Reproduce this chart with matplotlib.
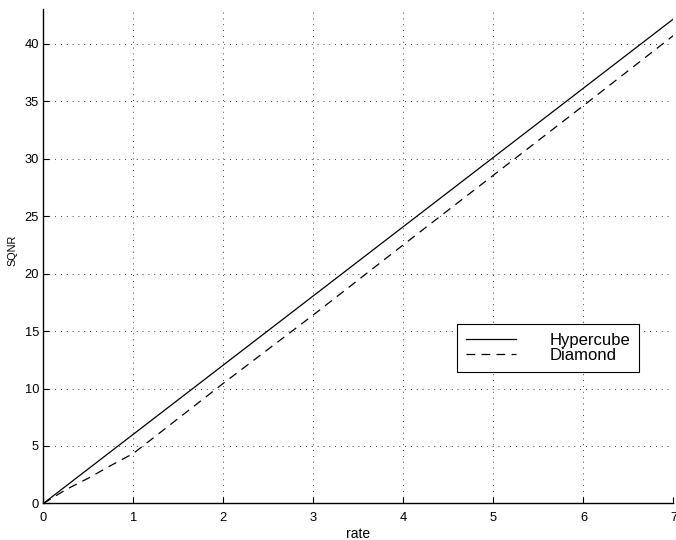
import matplotlib.pyplot as plt

plt.rcParams['font.family'] = ['Liberation Sans', 'DejaVu Sans']

# --- DATA ---
rate = [0, 0.25, 0.5, 0.75, 1, 2, 3, 4, 5, 6, 7]
hypercube = [0, 1.505, 3.01, 4.515, 6.02, 12.04, 18.06, 24.08, 30.10, 36.12, 42.14]
diamond = [0, 1.2, 2.2, 3.3, 4.35, 10.45, 16.4, 22.5, 28.55, 34.6, 40.7]

# --- PLOT ---
fig = plt.figure(figsize=(6.76, 5.4), dpi=100)
ax = fig.add_axes([0.064, 0.0676, 0.9323, 0.9157])

ax.plot(rate, hypercube, color='black', lw=0.9, label='Hypercube')
ax.plot(rate, diamond, color='black', lw=0.9, ls=(0, (7, 5)), label='Diamond')

ax.set_xlim(0, 7)
ax.set_ylim(0, 43)
ax.set_xticks(range(0, 8))
ax.set_yticks(range(0, 45, 5))
ax.tick_params(direction='in', length=4.5, width=0.8, labelsize=9.3, pad=3)
ax.tick_params(axis='x', pad=6)
ax.grid(True, color='black', lw=0.6, ls=(0, (1, 6)))
for s in ['top', 'right']:
    ax.spines[s].set_visible(False)
for s in ['left', 'bottom']:
    ax.spines[s].set_linewidth(1.0)

ax.set_xlabel('rate', fontsize=10, labelpad=2)
ax.set_ylabel('SQNR', fontsize=7.8)
ax.yaxis.set_label_coords(-0.041, 0.512)

# legend box placed in figure pixel coords (upper left corner)
leg = ax.legend(loc='upper left', bbox_to_anchor=(457 / 676, 216 / 540),
                bbox_transform=fig.transFigure, borderaxespad=0, fontsize=12,
                frameon=True, fancybox=False, edgecolor='black', framealpha=1,
                handlelength=3.0, handletextpad=2.0, labelspacing=0.0,
                borderpad=0.55)
leg.get_frame().set_linewidth(0.8)

fig.savefig('out.png', dpi=100)
